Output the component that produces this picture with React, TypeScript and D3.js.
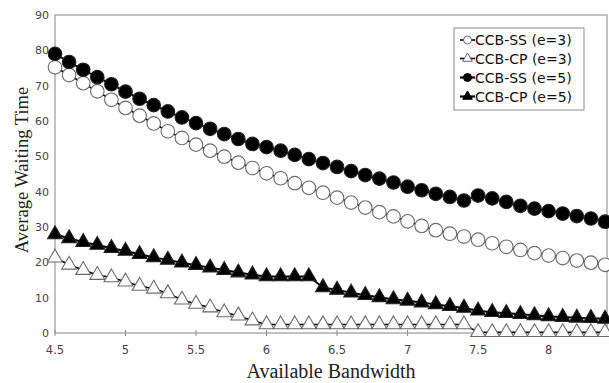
import React from "react";
import * as d3 from "d3";

const bandwidth = [
  4.5, 4.6, 4.7, 4.8, 4.9, 5.0, 5.1, 5.2, 5.3, 5.4,
  5.5, 5.6, 5.7, 5.8, 5.9, 6.0, 6.1, 6.2, 6.3, 6.4,
  6.5, 6.6, 6.7, 6.8, 6.9, 7.0, 7.1, 7.2, 7.3, 7.4,
  7.5, 7.6, 7.7, 7.8, 7.9, 8.0, 8.1, 8.2, 8.3, 8.4,
];

const ssE3 = [
  75.2, 73.0, 70.7, 68.4, 66.0, 63.7, 61.5, 59.3, 57.1, 55.2,
  53.3, 51.6, 49.9, 48.2, 46.7, 45.2, 43.8, 42.4, 41.1, 39.7,
  38.3, 36.9, 35.5, 34.2, 33.0, 31.6, 30.3, 29.1, 28.1, 27.3,
  26.4, 25.4, 24.4, 23.5, 22.6, 21.9, 21.2, 20.5, 19.9, 19.3,
];

const cpE3 = [
  21.3, 19.3, 17.8, 16.4, 15.7, 14.5, 13.3, 12.5, 11.2, 9.4,
  8.2, 7.2, 5.8, 4.9, 3.5, 2.4, 2.4, 2.4, 2.4, 2.4,
  2.4, 2.4, 2.4, 2.4, 2.4, 2.4, 2.4, 2.4, 2.4, 2.4,
  0.2, 0.2, 0.2, 0.2, 0.2, 0.2, 0.2, 0.2, 0.2, 0.2,
];

const ssE5 = [
  79.0, 76.7, 74.5, 72.4, 70.4, 68.3, 66.3, 64.5, 62.7, 61.0,
  59.4, 57.8, 56.3, 54.9, 53.5, 52.6, 51.6, 50.4, 49.2, 48.1,
  47.0, 45.8, 44.7, 43.7, 42.6, 41.4, 40.4, 39.4, 38.5, 37.5,
  38.9, 38.1, 37.1, 36.0, 35.2, 34.5, 33.8, 33.1, 32.4, 31.5,
];

const cpE5 = [
  27.9, 26.8, 25.7, 24.9, 24.0, 23.2, 22.3, 21.4, 20.7, 19.9,
  19.2, 18.5, 17.8, 17.1, 16.5, 16.0, 16.0, 16.0, 16.0, 12.9,
  12.2, 11.4, 10.7, 10.1, 9.5, 9.1, 8.6, 8.1, 7.6, 7.1,
  6.3, 5.9, 5.6, 5.3, 5.0, 4.7, 4.5, 4.3, 4.2, 4.0,
];

const seriesNames = ["CCB-SS (e=3)", "CCB-CP (e=3)", "CCB-SS (e=5)", "CCB-CP (e=5)"];
const xTicks = [4.5, 5, 5.5, 6, 6.5, 7, 7.5, 8];
const yTicks = [0, 10, 20, 30, 40, 50, 60, 70, 80, 90];

type Series = { name: string; values: number[]; shape: "circle" | "triangle"; filled: boolean };

const series: Series[] = [
  { name: seriesNames[0], values: ssE3, shape: "circle", filled: false },
  { name: seriesNames[1], values: cpE3, shape: "triangle", filled: false },
  { name: seriesNames[2], values: ssE5, shape: "circle", filled: true },
  { name: seriesNames[3], values: cpE5, shape: "triangle", filled: true },
];

const W = 609;
const H = 383;
const left = 55;
const right = 607;
const top = 15;
const bottom = 333;

export default function App() {
  const x = d3.scaleLinear().domain([4.5, 8.4]).range([left, 605]);
  const y = d3.scaleLinear().domain([0, 90]).range([bottom, top]);
  const line = d3
    .line<number>()
    .x((_, i) => x(bandwidth[i]))
    .y((d) => y(d));

  const circle = d3.symbol().type(d3.symbolCircle).size(Math.PI * 6.8 * 6.8)();
  const tri = d3.symbol().type(d3.symbolTriangle).size(95)();
  const circleSm = d3.symbol().type(d3.symbolCircle).size(Math.PI * 4 * 4)();
  const triSm = d3.symbol().type(d3.symbolTriangle).size(40)();

  const sans = "'DejaVu Sans', sans-serif";
  const serif = "'Liberation Serif', 'Times New Roman', serif";

  const legendX = 454;
  const legendY = 28;
  const legendW = 130;
  const legendH = 82;
  const rowY = [40, 58.5, 77.5, 96.5];

  return (
    <svg
      width={W}
      height={H}
      style={{ position: "absolute", left: 0, top: 0, background: "#fff" }}
    >
      <rect x={0} y={0} width={W} height={H} fill="#fff" />
      <rect
        x={left}
        y={top}
        width={right - left}
        height={bottom - top}
        fill="none"
        stroke="#9a9a9a"
        strokeWidth={1.2}
      />
      {xTicks.map((t) => (
        <g key={"xt" + t}>
          <line x1={x(t)} x2={x(t)} y1={bottom - 3} y2={bottom + 3} stroke="#8a8a8a" strokeWidth={1} />
          <text
            x={x(t)}
            y={354}
            textAnchor="middle"
            fontFamily={sans}
            fontSize={11.5}
            fill="#444"
          >
            {t}
          </text>
        </g>
      ))}
      {yTicks.map((t) => (
        <text
          key={"yt" + t}
          x={49}
          y={y(t) + 4}
          textAnchor="end"
          fontFamily={sans}
          fontSize={11}
          fill="#444"
        >
          {t}
        </text>
      ))}
      <text x={331} y={378} textAnchor="middle" fontFamily={serif} fontSize={20} fill="#222">
        Available Bandwidth
      </text>
      <text
        transform={`translate(28,170) rotate(-90)`}
        textAnchor="middle"
        fontFamily={serif}
        fontSize={18.5}
        fill="#222"
      >
        Average Waiting Time
      </text>
      {series.map((s, si) => (
        <g key={"s" + si}>
          <path d={line(s.values) || ""} fill="none" stroke="#000" strokeWidth={s.filled ? 2 : 1.6} />
          {s.values.map((v, i) => (
            <path
              key={i}
              d={s.shape === "circle" ? circle! : tri!}
              transform={`translate(${x(bandwidth[i])},${y(v)})`}
              fill={s.filled ? "#000" : "#fff"}
              stroke={s.filled ? "#222" : "#6a6a6a"}
              strokeWidth={1.1}
            />
          ))}
        </g>
      ))}
      <rect
        x={legendX}
        y={legendY}
        width={legendW}
        height={legendH}
        fill="#fff"
        stroke="#8a8a8a"
        strokeWidth={1}
      />
      {series.map((s, i) => (
        <g key={"lg" + i}>
          <line x1={460} x2={475} y1={rowY[i]} y2={rowY[i]} stroke="#000" strokeWidth={s.filled ? 2.2 : 1.6} />
          <path
            d={s.shape === "circle" ? circleSm! : triSm!}
            transform={`translate(467.5,${rowY[i]})`}
            fill={s.filled ? "#000" : "#fff"}
            stroke={s.filled ? "#000" : "#666"}
            strokeWidth={1}
          />
          <text x={475} y={rowY[i] + 5} fontFamily={sans} fontSize={14} fill="#111">
            {s.name}
          </text>
        </g>
      ))}
    </svg>
  );
}
